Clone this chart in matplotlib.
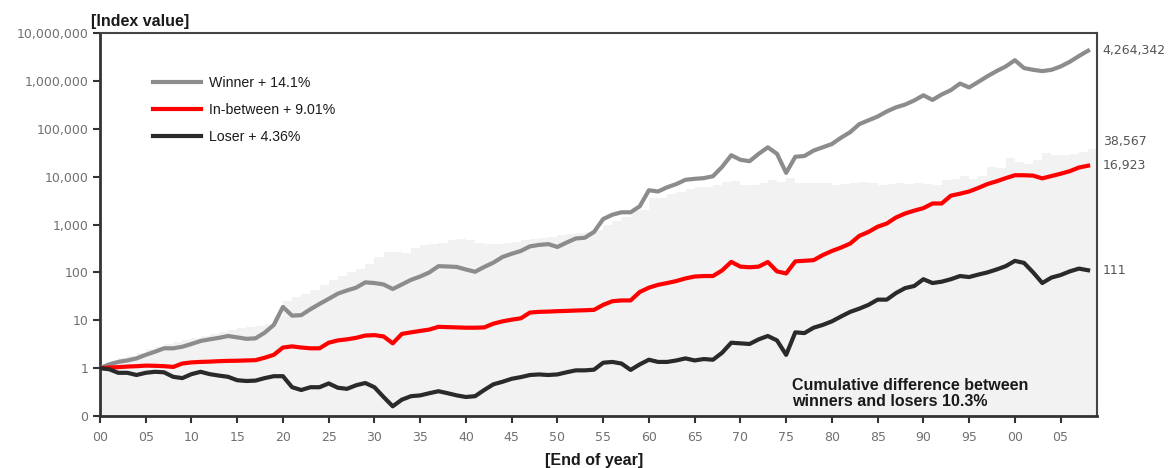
import numpy as np
import matplotlib
matplotlib.use('Agg')
import matplotlib.pyplot as plt
from matplotlib.ticker import FixedLocator, NullLocator

years = list(range(1900, 2009))

# Winner portfolio index (log scale)
winner = [1.0, 1.2, 1.35, 1.45, 1.6, 1.9, 2.2, 2.6, 2.6, 2.8,
          3.2, 3.7, 4.0, 4.3, 4.7, 4.4, 4.1, 4.2, 5.5, 8.0,
          19, 12.5, 12.8, 17, 22, 28, 36, 42, 48, 62,
          60, 56, 45, 56, 70, 82, 100, 135, 133, 130,
          115, 103, 130, 160, 210, 245, 280, 350, 375, 390,
          340, 420, 510, 530, 700, 1300, 1600, 1800, 1800, 2400,
          5200, 4900, 6000, 7000, 8600, 9000, 9300, 10200, 16000, 28000,
          22500, 21000, 30000, 41000, 30000, 12000, 26000, 27000, 35000, 41000,
          48000, 65000, 85000, 125000, 150000, 180000, 230000, 280000, 320000, 390000,
          500000, 400000, 520000, 640000, 880000, 730000, 950000, 1250000, 1600000, 2000000,
          2700000, 1850000, 1700000, 1600000, 1700000, 2000000, 2500000, 3300000, 4264342]

middle = [1.0, 1.03, 1.05, 1.08, 1.1, 1.13, 1.12, 1.1, 1.06, 1.25,
          1.32, 1.35, 1.37, 1.4, 1.42, 1.43, 1.45, 1.47, 1.65, 1.9,
          2.7, 2.85, 2.7, 2.6, 2.6, 3.4, 3.8, 4.0, 4.3, 4.8,
          4.9, 4.6, 3.3, 5.2, 5.6, 6.0, 6.4, 7.3, 7.2, 7.1,
          7.0, 7.0, 7.1, 8.5, 9.5, 10.3, 11, 14.5, 15, 15.2,
          15.5, 15.7, 16, 16.2, 16.5, 21, 25, 26, 26, 39,
          48, 55, 60, 66, 75, 82, 84, 84, 110, 166,
          132, 128, 132, 165, 105, 95, 170, 175, 180, 230,
          280, 330, 400, 580, 700, 900, 1050, 1400, 1700, 1950,
          2200, 2750, 2750, 4000, 4400, 4900, 5800, 7000, 8000, 9300,
          10700, 10700, 10500, 9200, 10300, 11500, 13000, 15500, 16923]

loser = [1.0, 0.95, 0.8, 0.8, 0.72, 0.8, 0.84, 0.82, 0.66, 0.62,
         0.75, 0.84, 0.75, 0.7, 0.66, 0.56, 0.54, 0.55, 0.62, 0.68,
         0.68, 0.40, 0.35, 0.40, 0.40, 0.48, 0.39, 0.37, 0.44, 0.49,
         0.40, 0.25, 0.16, 0.22, 0.26, 0.27, 0.30, 0.33, 0.30, 0.27,
         0.25, 0.26, 0.35, 0.46, 0.52, 0.60, 0.65, 0.72, 0.74, 0.72,
         0.74, 0.82, 0.90, 0.90, 0.93, 1.3, 1.35, 1.25, 0.92, 1.2,
         1.5, 1.35, 1.35, 1.45, 1.6, 1.45, 1.55, 1.5, 2.1, 3.4,
         3.3, 3.2, 4.0, 4.7, 3.8, 1.9, 5.6, 5.4, 7.0, 8.0,
         9.5, 12, 15, 17.5, 21, 27, 27, 37, 47, 52,
         72, 60, 64, 72, 84, 80, 90, 100, 115, 135,
         174, 158, 100, 60, 78, 88, 105, 120, 111]

# cumulative difference winners vs losers (shaded area)
spread = [1.0, 1.3, 1.6, 1.8, 2.1, 2.5, 2.8, 3.2, 3.5, 3.9,
          4.2, 4.6, 5.2, 5.7, 6.3, 7.0, 7.3, 7.5, 8.5, 12,
          25, 31, 36, 43, 55, 70, 85, 100, 115, 150,
          210, 270, 270, 250, 330, 380, 400, 420, 470, 490,
          480, 420, 400, 400, 410, 440, 470, 510, 530, 560,
          600, 620, 650, 700, 760, 1000, 1200, 1450, 1950, 2000,
          3500, 3600, 4400, 4800, 5400, 6200, 6000, 6800, 7600, 8200,
          6800, 6600, 7500, 8700, 7900, 9200, 7500, 7200, 7200, 7200,
          6800, 6900, 7200, 7800, 7400, 6700, 7000, 7400, 7000, 7500,
          7000, 6600, 8500, 9000, 10500, 9100, 10500, 16000, 15000, 24000,
          20000, 18000, 22000, 31000, 28000, 28000, 30000, 32000, 38567]

series_labels = ['Winner + 14.1%', 'In-between + 9.01%', 'Loser + 4.36%']
end_labels = ['4,264,342', '38,567', '16,923', '111']
ytick_vals = [0.1, 1, 10, 100, 1e3, 1e4, 1e5, 1e6, 1e7]
ytick_labels = ['0', '1', '10', '100', '1,000', '10,000', '100,000', '1,000,000', '10,000,000']
xtick_vals = list(range(1900, 2006, 5))
xtick_labels = ['%02d' % (y % 100) for y in xtick_vals]

fig = plt.figure(figsize=(11.76, 4.68), dpi=100)
ax = fig.add_axes([0.085, 0.111, 0.848, 0.8185])

# shaded area as yearly columns, no gaps
ax.bar(years, np.array(spread) - 0.1, bottom=0.1, width=1.0, align='edge',
       color='#f2f2f2', linewidth=0, zorder=1)
ax.plot(years, winner, color='#8c8c8c', lw=3.0, label=series_labels[0], zorder=3)
ax.plot(years, middle, color='#ff0000', lw=3.0, label=series_labels[1], zorder=3)
ax.plot(years, loser, color='#2a2a2a', lw=3.0, label=series_labels[2], zorder=3)

ax.set_yscale('log')
ax.set_ylim(0.1, 1e7)
ax.set_xlim(1900, 2009)
ax.yaxis.set_major_locator(FixedLocator(ytick_vals))
ax.yaxis.set_minor_locator(NullLocator())
ax.set_yticklabels(ytick_labels)
ax.set_xticks(xtick_vals)
ax.set_xticklabels(xtick_labels)
ax.tick_params(axis='both', colors='#333333', labelcolor='#707070', labelsize=9,
               length=5, width=1.5, direction='out')
ax.tick_params(axis='x', pad=6)

for side in ['left', 'bottom']:
    ax.spines[side].set_color('#333333')
    ax.spines[side].set_linewidth(2)
for side in ['top', 'right']:
    ax.spines[side].set_color('#444444')
    ax.spines[side].set_linewidth(1.5)

leg = ax.legend(loc='upper left', bbox_to_anchor=(0.04, 0.922), frameon=False,
                handlelength=3.4, handletextpad=0.55, labelspacing=0.92,
                prop={'family': 'Liberation Sans', 'size': 10.2})
for t in leg.get_texts():
    t.set_color('#1a1a1a')

# end values on the right
end_pos = [winner[-1], 38567 * 1.4, middle[-1], loser[-1]]
for lab, v in zip(end_labels, end_pos):
    ax.text(2009.6, v, lab, fontsize=9, color='#555555', va='center', ha='left',
            family='DejaVu Sans', clip_on=False)

fig.text(0.077, 0.955, '[Index value]', fontsize=11.5, fontweight='bold',
         family='Liberation Sans', color='#1a1a1a', ha='left', va='center')
fig.text(0.505, 0.017, '[End of year]', fontsize=11.5, fontweight='bold',
         family='Liberation Sans', color='#1a1a1a', ha='center', va='center')

ax.text(1975.6, 0.62, 'Cumulative difference between\nwinners and losers 10.3%',
        fontsize=11.5, fontweight='bold', family='Liberation Sans', color='#1a1a1a',
        ha='left', va='top', linespacing=1.1, zorder=4)

plt.savefig('out.png', dpi=100)
